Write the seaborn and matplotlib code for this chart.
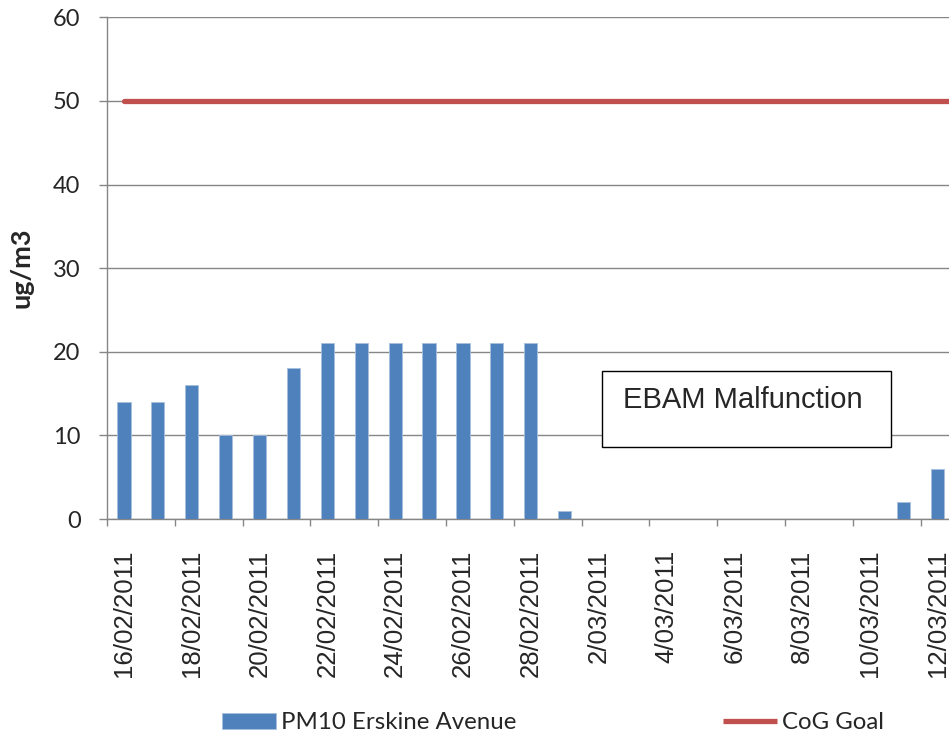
import numpy as np
import pandas as pd
import seaborn as sns
import matplotlib.pyplot as plt
from matplotlib.patches import Rectangle

# Daily PM10 at Erskine Avenue, 16/02/2011 - 12/03/2011 (ug/m3)
dates = ["16/02/2011", "17/02/2011", "18/02/2011", "19/02/2011", "20/02/2011",
         "21/02/2011", "22/02/2011", "23/02/2011", "24/02/2011", "25/02/2011",
         "26/02/2011", "27/02/2011", "28/02/2011", "1/03/2011", "2/03/2011",
         "3/03/2011", "4/03/2011", "5/03/2011", "6/03/2011", "7/03/2011",
         "8/03/2011", "9/03/2011", "10/03/2011", "11/03/2011", "12/03/2011"]
pm10 = [14, 14, 16, 10, 10, 18, 21, 21, 21, 21, 21, 21, 21, 1,
        0, 0, 0, 0, 0, 0, 0, 0, 0, 2, 6]
goal = 50
y_ticks = [0, 10, 20, 30, 40, 50, 60]

df = pd.DataFrame({"Date": dates, "PM10": pm10})

sns.set_theme(style="white")
plt.rcParams["font.family"] = ["Liberation Sans", "DejaVu Sans"]

fig = plt.figure(figsize=(9.49, 7.37), dpi=100)
ax = fig.add_axes([107 / 949, 1 - 519 / 737, 25 * 33.9 / 949, (519 - 17.3) / 737])

sns.barplot(data=df, x="Date", y="PM10", ax=ax, color="#4F81BD", saturation=1,
            width=0.39, edgecolor="#A7BFDE", linewidth=0.6, legend=False, zorder=3)
n = len(dates)
goal_line = ax.hlines(goal, 0, n - 0.5, colors="#C0504D", linewidth=3.8,
                      capstyle="round", zorder=4)

ax.set_xlim(-0.5, n - 0.5)
ax.set_ylim(0, 60)
ax.set_yticks(y_ticks)
ax.yaxis.grid(True, color="#868686", linewidth=1.0, zorder=0)
ax.set_axisbelow(True)

# labels on every other day, tick marks at category boundaries
ax.set_xticks(np.arange(0, n, 2))
ax.set_xticklabels(dates[::2], rotation=90, fontsize=18.6,
                   family=["Liberation Sans", "DejaVu Sans"])
ax.set_xticks(np.arange(-0.5, n, 2), minor=True)
ax.tick_params(axis="x", which="major", length=0, pad=22)
ax.tick_params(axis="x", which="minor", length=5, width=1, color="#868686", bottom=True)
ax.tick_params(axis="y", length=6, width=1, color="#868686", pad=13, left=True)
for t in ax.get_yticklabels():
    t.set_family(["Lato", "DejaVu Sans"])
    t.set_fontsize(17)

ax.set_xlabel("")
ax.set_ylabel("ug/m3", fontweight="bold", fontsize=19.5, family=["Lato", "DejaVu Sans"])
ax.yaxis.set_label_coords(-0.0873, 0.5)

sns.despine(ax=ax, top=True, right=True)
for s in ["left", "bottom"]:
    ax.spines[s].set_color("#868686")
    ax.spines[s].set_linewidth(1.0)

# annotation box
fig.add_artist(Rectangle((601.7 / 949, 1 - 447 / 737), 289 / 949, 76.3 / 737,
                         transform=fig.transFigure, facecolor="white",
                         edgecolor="black", linewidth=1.0, zorder=5))
fig.text(743 / 949, 1 - 400 / 737, "EBAM Malfunction", ha="center", va="center",
         fontsize=21, zorder=6)

bars = ax.containers[0]
fig.legend([bars, goal_line], ["PM10 Erskine Avenue", "CoG Goal"], loc="center",
           bbox_to_anchor=(0.5827, 0.019), ncol=2, frameon=False,
           handlelength=2.25, handleheight=0.6, handletextpad=0.2, columnspacing=8.6,
           prop=dict(family=["Lato", "DejaVu Sans"], size=17.3))

fig.savefig("out.png", dpi=100)
